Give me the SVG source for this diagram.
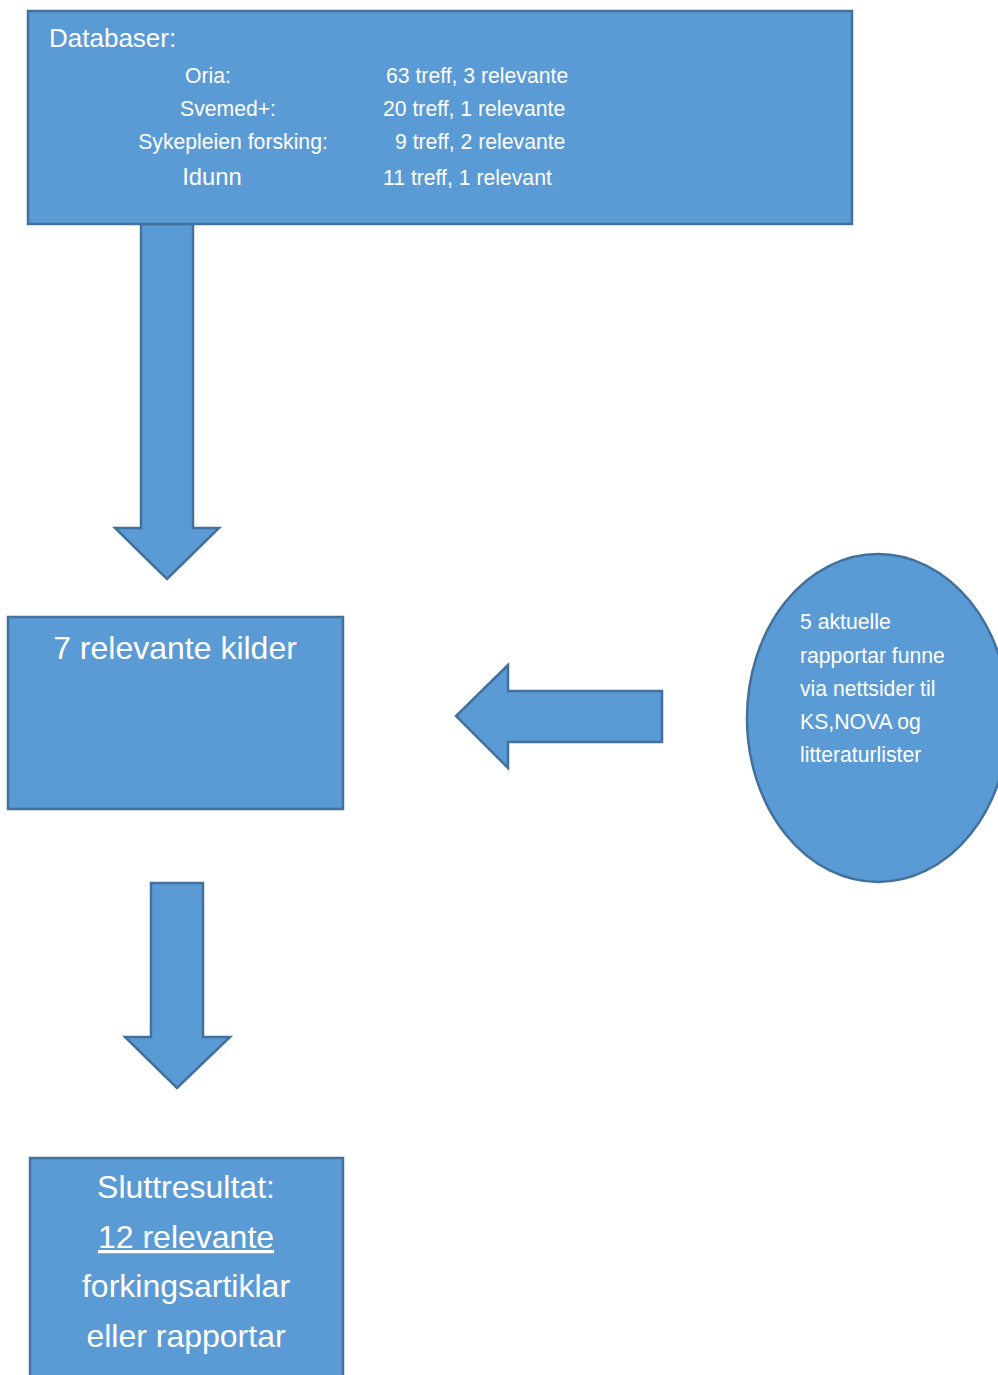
<svg xmlns="http://www.w3.org/2000/svg" width="998" height="1375" viewBox="0 0 998 1375">
<style>
.shape{fill:#5B9BD5;stroke:#41719C;stroke-width:2.5}
text{font-family:"Liberation Sans",Arial,sans-serif;fill:#FFFFFF}
.s{font-size:21.2px}
.m{font-size:26px}
.l{font-size:32px}
</style>
<rect width="998" height="1375" fill="#FFFFFF"/>
<g id="connectors">
<polygon class="shape" points="141,224 193,224 193,528 219,528 167,579 115,528 141,528"/>
<polygon class="shape" points="662,691 662,742 508,742 508,768 456,716 508,665 508,691"/>
<polygon class="shape" points="151,883 203,883 203,1037 230,1037 177,1088 125,1037 151,1037"/>
</g>
<g id="databaser">
<rect class="shape" x="28" y="11" width="824" height="213"/>
<text class="m" x="49" y="47">Databaser:</text>
<text class="s" x="208" y="83" text-anchor="middle">Oria:</text>
<text class="s" x="228" y="116" text-anchor="middle">Svemed+:</text>
<text class="s" x="233" y="149" text-anchor="middle">Sykepleien forsking:</text>
<text x="212" y="185" text-anchor="middle" font-size="23.8">Idunn</text>
<text class="s" x="386" y="83">63 treff, 3 relevante</text>
<text class="s" x="383" y="116">20 treff, 1 relevante</text>
<text class="s" x="395" y="149">9 treff, 2 relevante</text>
<text class="s" x="383" y="185">11 treff, 1 relevant</text>
</g>
<g id="kilder">
<rect class="shape" x="8" y="617" width="335" height="192"/>
<text class="l" x="175" y="659" text-anchor="middle">7 relevante kilder</text>
</g>
<g id="rapportar">
<ellipse class="shape" cx="878" cy="718" rx="131" ry="164"/>
<text class="s" x="800" y="629">5 aktuelle</text>
<text class="s" x="800" y="663">rapportar funne</text>
<text class="s" x="800" y="696">via nettsider til</text>
<text class="s" x="800" y="729">KS,NOVA og</text>
<text class="s" x="800" y="762">litteraturlister</text>
</g>
<g id="sluttresultat">
<rect class="shape" x="30" y="1158" width="313" height="230"/>
<text class="l" x="186" y="1198" text-anchor="middle">Sluttresultat:</text>
<text class="l" x="186" y="1248" text-anchor="middle" text-decoration="underline">12 relevante</text>
<text class="l" x="186" y="1297" text-anchor="middle">forkingsartiklar</text>
<text class="l" x="186" y="1347" text-anchor="middle">eller rapportar</text>
</g>
</svg>
